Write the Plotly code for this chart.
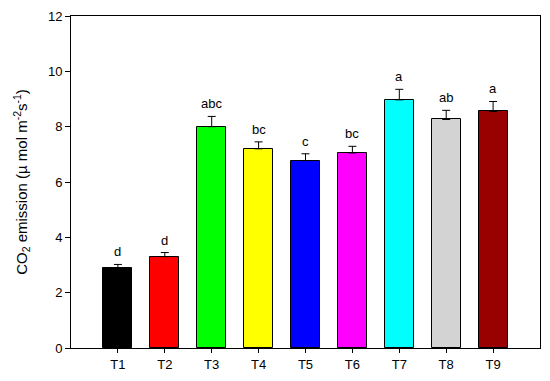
import plotly.graph_objects as go

categories = ["T1", "T2", "T3", "T4", "T5", "T6", "T7", "T8", "T9"]
means = [2.9, 3.3, 8.0, 7.2, 6.77, 7.05, 8.97, 8.26, 8.55]
errors = [0.12, 0.15, 0.37, 0.25, 0.25, 0.24, 0.38, 0.33, 0.36]
letters = ["d", "d", "abc", "bc", "c", "bc", "a", "ab", "a"]
colors = ["#000000", "#ff0000", "#00ff00", "#ffff00", "#0000ff",
          "#ff00ff", "#00ffff", "#d3d3d3", "#990000"]
yticks = [0, 2, 4, 6, 8, 10, 12]

x = list(range(len(categories)))
FONT = "Liberation Sans, Arial, sans-serif"

fig = go.Figure()
fig.add_trace(go.Bar(
    x=x, y=means, width=0.62,
    marker=dict(color=colors, line=dict(color="black", width=1)),
    error_y=dict(type="data", array=errors, arrayminus=[0]*len(errors),
                 symmetric=False, color="black", thickness=1, width=4),
    showlegend=False,
))

for xi, m, e, lab in zip(x, means, errors, letters):
    fig.add_annotation(x=xi, y=m + e, text=lab, showarrow=False,
                       yanchor="bottom", yshift=3,
                       font=dict(family=FONT, size=13, color="black"))

fig.update_layout(
    width=550, height=381,
    margin=dict(l=71, r=9, t=11, b=32),
    plot_bgcolor="white", paper_bgcolor="white",
    font=dict(family=FONT, size=13, color="black"),
    bargap=0,
)
fig.update_xaxes(
    range=[-1, 9], tickmode="array", tickvals=x, ticktext=categories,
    showline=True, linecolor="black", linewidth=1, mirror=True,
    ticks="outside", ticklen=4, tickcolor="black",
    showgrid=False, zeroline=False, tickfont=dict(size=13),
)
fig.update_yaxes(
    range=[0, 12], tickmode="array", tickvals=yticks,
    showline=True, linecolor="black", linewidth=1, mirror=True,
    ticks="outside", ticklen=5, tickcolor="black",
    showgrid=False, zeroline=False, tickfont=dict(size=13),
    title=dict(text="CO<sub>2</sub> emission (\u00b5 mol m<sup>-2</sup>s<sup>-1</sup>)",
               font=dict(size=15), standoff=16),
)

# remove the default 8px page margin so the figure fills the window exactly
fig.write_html("out.html",
               config={"displayModeBar": False},
               post_script="document.body.style.margin='0';document.body.style.overflow='hidden';")
